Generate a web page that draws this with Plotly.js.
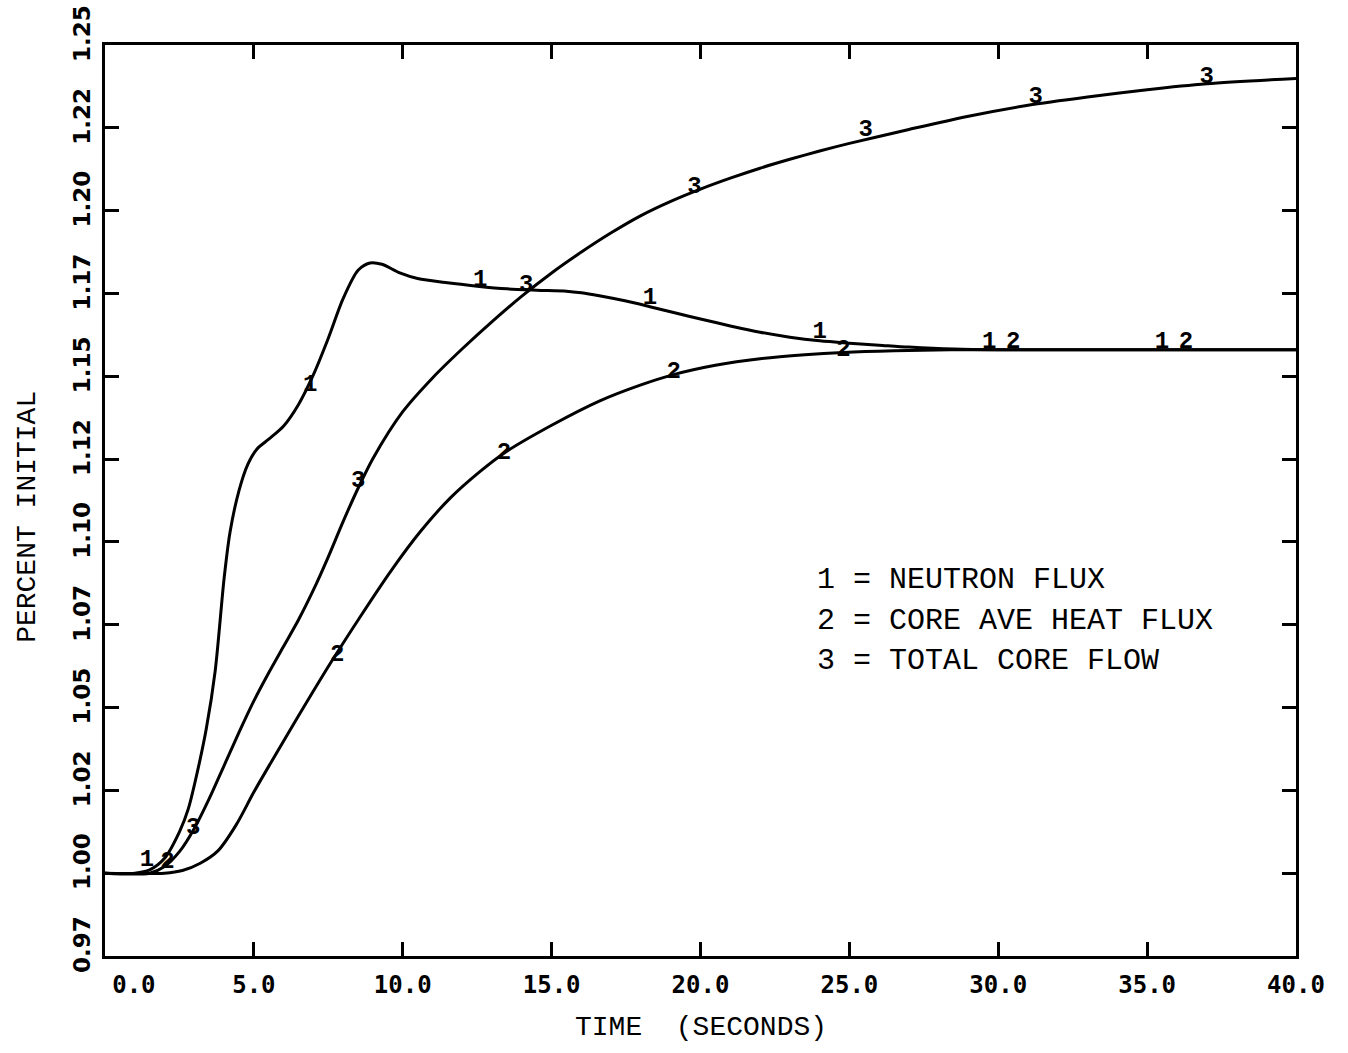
<!DOCTYPE html>
<html>
<head>
<meta charset="utf-8">
<script src="https://cdn.plot.ly/plotly-3.0.1.min.js"></script>
<style>html,body{margin:0;padding:0;background:#fff;}</style>
</head>
<body>
<div id="chart" style="width:1348px;height:1053px;"></div>
<script>
// ---- Data ----
// Curve 1: Neutron flux
const fluxX = [0, 1.0, 1.5, 2.0, 2.5, 2.8, 3.1, 3.4, 3.7, 4.0, 4.2, 4.5, 4.8, 5.1, 5.5, 6.0, 6.5, 7.0, 7.5, 8.0, 8.5, 8.9, 9.3, 9.9, 10.5, 11.5, 12.5, 13.5, 14.5, 15.5, 16.0, 16.6, 17.5, 18.3, 19.2, 20.0, 21.0, 22.0, 23.0, 24.0, 25.0, 26.0, 27.0, 28.5, 30, 35, 40];
const fluxY = [1.0, 1.0, 1.001, 1.0045, 1.0125, 1.0195, 1.0305, 1.0435, 1.061, 1.089, 1.103, 1.1155, 1.1235, 1.128, 1.131, 1.135, 1.1415, 1.1505, 1.1615, 1.1735, 1.182, 1.1842, 1.1838, 1.1812, 1.1795, 1.1782, 1.1772, 1.1764, 1.176, 1.1757, 1.1752, 1.1743, 1.1727, 1.171, 1.169, 1.1673, 1.1652, 1.1633, 1.1618, 1.1607, 1.16, 1.1594, 1.1588, 1.1582, 1.158, 1.158, 1.158];
// Curve 2: Core average heat flux
const heatX = [0, 2.0, 2.6, 3.2, 3.8, 4.4, 5.0, 5.6, 6.5, 7.6, 8.6, 9.6, 10.6, 11.6, 12.6, 13.4, 15.0, 16.6, 18.0, 19.1, 20.5, 22.0, 23.5, 24.8, 26.5, 28.4, 30, 35, 40];
const heatY = [1.0, 1.0, 1.0008, 1.003, 1.0068, 1.0145, 1.0245, 1.0338, 1.0475, 1.0638, 1.0778, 1.0912, 1.1032, 1.1133, 1.1213, 1.1268, 1.1352, 1.1425, 1.1474, 1.1505, 1.1533, 1.1553, 1.1565, 1.1572, 1.1577, 1.158, 1.158, 1.158, 1.158];
// Curve 3: Total core flow
const flowX = [0, 1.5, 2.0, 2.5, 3.0, 3.5, 4.0, 4.5, 5.0, 5.5, 6.0, 6.5, 7.0, 7.5, 8.0, 8.5, 9.0, 10.0, 11.0, 12.0, 13.0, 14.0, 15.0, 16.0, 17.0, 18.0, 19.0, 20.0, 21.0, 22.0, 23.0, 24.0, 25.0, 27.0, 29.0, 31.0, 33.0, 35.0, 37.0, 40.0];
const flowY = [1.0, 1.0, 1.002, 1.0065, 1.0135, 1.0225, 1.0325, 1.0425, 1.052, 1.0605, 1.0685, 1.0765, 1.0855, 1.0955, 1.1062, 1.1162, 1.1252, 1.1393, 1.1495, 1.1583, 1.1665, 1.1742, 1.1812, 1.1875, 1.1933, 1.1985, 1.2028, 1.2065, 1.2098, 1.2128, 1.2155, 1.218, 1.2203, 1.2245, 1.2285, 1.2318, 1.2343, 1.2365, 1.2383, 1.2399];

// Curve identification labels along each curve
const fluxLabelX = [1.41, 6.89, 12.6, 18.3, 24.0, 29.7, 35.5];
const fluxLabelY = [1.004, 1.1474, 1.1791, 1.1737, 1.1634, 1.1604, 1.1604];
const heatLabelX = [2.1, 7.8, 13.4, 19.1, 24.8, 30.5, 36.3];
const heatLabelY = [1.0034, 1.0659, 1.1269, 1.1513, 1.158, 1.1604, 1.1604];
const flowLabelX = [2.96, 8.5, 14.15, 19.8, 25.55, 31.26, 37.0];
const flowLabelY = [1.0136, 1.1184, 1.1776, 1.2072, 1.2244, 1.2344, 1.2404];

// Axis ticks
const xTickVals = [0, 5, 10, 15, 20, 25, 30, 35, 40];
const xTickText = ['\u00a0\u00a0\u00a0\u00a00.0', '5.0', '10.0', '15.0', '20.0', '25.0', '30.0', '35.0', '40.0'];
const yTickVals = [0.975, 1.0, 1.025, 1.05, 1.075, 1.1, 1.125, 1.15, 1.175, 1.2, 1.225, 1.25];
const yTickText = ['0.97', '1.00', '1.02', '1.05', '1.07', '1.10', '1.12', '1.15', '1.17', '1.20', '1.22', '1.25'];

const legendLines = ['1 = NEUTRON FLUX', '2 = CORE AVE HEAT FLUX', '3 = TOTAL CORE FLOW'];
const xTitle = 'TIME\u00a0\u00a0(SECONDS)';
const yTitle = 'PERCENT INITIAL';

// ---- Traces ----
const lineStyle = {color: 'black', width: 3, shape: 'spline', smoothing: 0.8};
const labelFont = {family: 'Liberation Mono, DejaVu Sans Mono, monospace', size: 24, color: 'black', weight: 'bold'};
function curve(x, y) {
  return {x: x, y: y, mode: 'lines', line: lineStyle, hoverinfo: 'skip', showlegend: false};
}
function labels(x, y, t) {
  return {x: x, y: y, mode: 'text', text: x.map(() => t), textposition: 'middle center',
          textfont: labelFont, cliponaxis: false, hoverinfo: 'skip', showlegend: false};
}
const data = [
  curve(fluxX, fluxY), curve(heatX, heatY), curve(flowX, flowY),
  labels(fluxLabelX, fluxLabelY, '1'), labels(heatLabelX, heatLabelY, '2'), labels(flowLabelX, flowLabelY, '3')
];

const axisCommon = {
  showgrid: false, zeroline: false, showline: true, linecolor: 'black', linewidth: 3,
  mirror: 'ticks', ticks: 'inside', ticklen: 14, tickwidth: 3, tickcolor: 'black', tickmode: 'array'
};

const monoFont = 'Liberation Mono, DejaVu Sans Mono, monospace';
const legendY = [0.4127, 0.3677, 0.3238];
const annotations = legendLines.map((t, i) => ({
  text: t.replace(/ /g, '\u00a0'), xref: 'paper', yref: 'paper', x: 0.596, y: legendY[i],
  xanchor: 'left', yanchor: 'middle', showarrow: false,
  font: {family: monoFont, size: 30, color: 'black'}
}));
annotations.push({
  text: xTitle, xref: 'paper', yref: 'paper', x: 0.5, y: -0.078, xanchor: 'center', yanchor: 'middle',
  showarrow: false, font: {family: monoFont, size: 28, color: 'black'}
});
annotations.push({
  text: yTitle, xref: 'paper', yref: 'paper', x: -0.0647, y: 0.482, xanchor: 'center', yanchor: 'middle',
  textangle: -90, showarrow: false, font: {family: monoFont, size: 28, color: 'black'}
});

const layout = {
  width: 1348, height: 1053,
  margin: {l: 105, r: 52, t: 45, b: 97, pad: 0},
  paper_bgcolor: 'white', plot_bgcolor: 'white',
  showlegend: false,
  xaxis: Object.assign({}, axisCommon, {
    range: [0, 40], tickvals: xTickVals, ticktext: xTickText, ticklabelstandoff: 5,
    tickfont: {family: 'DejaVu Sans Mono, monospace', size: 24, color: 'black', weight: 'bold'}
  }),
  yaxis: Object.assign({}, axisCommon, {
    range: [0.975, 1.25], tickvals: yTickVals, ticktext: yTickText, tickangle: -90,
    ticklabelstandoff: 3, ticklabelshift: -8,
    tickfont: {family: 'Liberation Sans Narrow, DejaVu Sans, sans-serif', size: 23, color: 'black', weight: 'bold'}
  }),
  annotations: annotations
};

Plotly.newPlot('chart', data, layout, {staticPlot: true, displayModeBar: false});
</script>
</body>
</html>
